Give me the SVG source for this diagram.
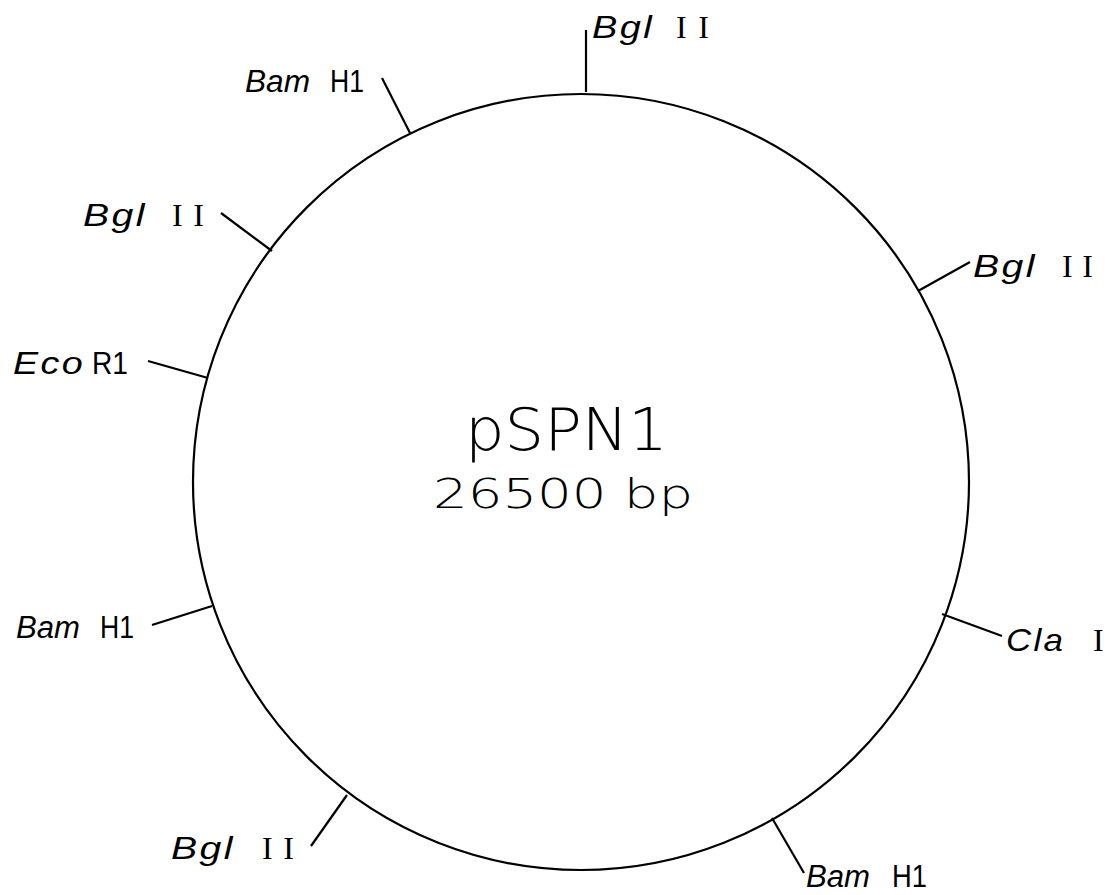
<svg xmlns="http://www.w3.org/2000/svg" width="1110" height="895" viewBox="0 0 1110 895">
<style>
.ring{fill:none;stroke:#000;stroke-width:2.2}
.tick{stroke:#000;stroke-width:2.2;fill:none}
.en{font-family:"Liberation Sans",Arial,sans-serif;font-style:italic;font-size:31px;fill:#000}
.ew{font-family:"Liberation Sans",Arial,sans-serif;font-style:italic;font-size:32px;letter-spacing:2px;fill:#000}
.nm{font-family:"Liberation Sans",Arial,sans-serif;font-size:31px;fill:#000}
.rn{font-family:"Liberation Serif","Times New Roman",serif;font-size:32px;fill:#000}
.ttl{font-family:"DejaVu Sans","Liberation Sans",sans-serif;font-weight:200;fill:#000}
</style>
<rect width="1110" height="895" fill="#fff"/>
<g id="plasmid">
<circle class="ring" cx="581" cy="482" r="388"/>
<text class="ttl" x="465" y="450" font-size="58" textLength="203" lengthAdjust="spacingAndGlyphs">pSPN1</text>
<text class="ttl" x="433" y="508" font-size="40" textLength="260" lengthAdjust="spacingAndGlyphs">26500 bp</text>
</g>
<g id="connectors">
<line class="tick" x1="586" y1="92" x2="586" y2="30"/>
<line class="tick" x1="410" y1="133" x2="382" y2="78"/>
<line class="tick" x1="272" y1="251" x2="221" y2="213"/>
<line class="tick" x1="208" y1="378" x2="148" y2="361"/>
<line class="tick" x1="918" y1="291" x2="970" y2="262"/>
<line class="tick" x1="212" y1="606" x2="152" y2="625"/>
<line class="tick" x1="942" y1="614" x2="1002" y2="636"/>
<line class="tick" x1="347" y1="795" x2="311" y2="846"/>
<line class="tick" x1="772" y1="818" x2="804" y2="873"/>
</g>
<g id="site-bgl-top">
<text class="ew" x="592" y="38" textLength="62" lengthAdjust="spacingAndGlyphs">Bgl</text>
<text class="rn" x="676" y="38" textLength="33" lengthAdjust="spacing">II</text>
</g>
<g id="site-bam-topleft">
<text class="en" x="245" y="92" textLength="65" lengthAdjust="spacingAndGlyphs">Bam</text>
<text class="nm" x="330" y="92" textLength="34" lengthAdjust="spacingAndGlyphs">H1</text>
</g>
<g id="site-bgl-left">
<text class="ew" x="83" y="226" textLength="64" lengthAdjust="spacingAndGlyphs">Bgl</text>
<text class="rn" x="172" y="226" textLength="32" lengthAdjust="spacing">II</text>
</g>
<g id="site-eco">
<text class="ew" x="13" y="374" textLength="72" lengthAdjust="spacingAndGlyphs">Eco</text>
<text class="nm" x="92" y="374" textLength="36" lengthAdjust="spacingAndGlyphs">R1</text>
</g>
<g id="site-bgl-right">
<text class="ew" x="973" y="277" textLength="64" lengthAdjust="spacingAndGlyphs">Bgl</text>
<text class="rn" x="1062" y="277" textLength="31" lengthAdjust="spacing">II</text>
</g>
<g id="site-bam-left">
<text class="en" x="16" y="638" textLength="64" lengthAdjust="spacingAndGlyphs">Bam</text>
<text class="nm" x="100" y="638" textLength="34" lengthAdjust="spacingAndGlyphs">H1</text>
</g>
<g id="site-cla">
<text class="ew" x="1006" y="651" textLength="59" lengthAdjust="spacingAndGlyphs">Cla</text>
<text class="rn" x="1093" y="651">I</text>
</g>
<g id="site-bgl-bottom">
<text class="ew" x="171" y="859" textLength="64" lengthAdjust="spacingAndGlyphs">Bgl</text>
<text class="rn" x="262" y="859" textLength="32" lengthAdjust="spacing">II</text>
</g>
<g id="site-bam-bottom">
<text class="en" x="806" y="887" textLength="64" lengthAdjust="spacingAndGlyphs">Bam</text>
<text class="nm" x="892" y="887" textLength="35" lengthAdjust="spacingAndGlyphs">H1</text>
</g>
</svg>
